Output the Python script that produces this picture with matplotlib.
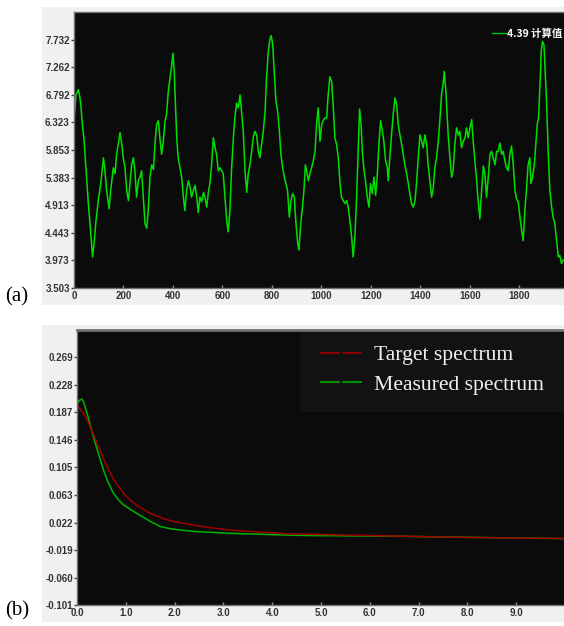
import matplotlib
matplotlib.use("Agg")
import matplotlib.pyplot as plt
from matplotlib.lines import Line2D
from matplotlib.patches import Rectangle

# (a) computed signal
sig_x = [0, 8, 18, 24, 28, 35, 40, 51, 58, 67, 75, 81, 89, 98, 108, 119, 125, 132, 142, 148,
         159, 166, 172, 179, 186, 193, 199, 206, 213, 220, 226, 233, 240, 246, 253, 260, 267,
         273, 280, 287, 294, 300, 307, 314, 321, 327, 334, 341, 347, 354, 361, 368, 374,
         381, 388, 395, 400, 405, 411, 416, 421, 428, 435, 442, 448, 455, 462, 469, 475, 482,
         489, 496, 502, 509, 516, 523, 529, 536, 543, 549, 556, 563, 570, 576, 583, 590, 597,
         603, 610, 617, 623, 630, 637, 644, 650, 657, 664, 671, 677, 684, 691, 698, 704, 711,
         718, 724, 731, 738, 745, 751, 758, 765,
         772, 778, 785, 792, 797, 803, 809, 816, 823, 830, 836, 843, 850, 856, 863, 870, 877,
         883, 890, 897, 904, 909, 916, 922, 929, 935, 940, 947, 953, 960, 967, 974, 980, 987,
         994, 1001, 1007, 1014, 1021, 1027, 1034, 1041, 1048, 1054, 1061, 1068, 1075, 1081,
         1088, 1095, 1102, 1108, 1115, 1122, 1128, 1135, 1142, 1149,
         1154, 1160, 1165, 1172, 1178, 1185, 1192, 1198, 1205, 1212, 1219, 1225, 1232, 1239,
         1246, 1252, 1259, 1266, 1270, 1277, 1283, 1290, 1297, 1304, 1310, 1317, 1324, 1330,
         1337, 1344, 1351, 1357, 1364, 1371, 1378, 1384, 1391, 1398, 1405, 1411, 1418, 1425,
         1431, 1438, 1445, 1452, 1458, 1465, 1472, 1479, 1485, 1492, 1496, 1502, 1507, 1512,
         1519, 1526, 1532,
         1539, 1546, 1553, 1559, 1566, 1573, 1580, 1586, 1593, 1600, 1607, 1613, 1620, 1627,
         1633, 1640, 1647, 1654, 1660, 1667, 1674, 1681, 1687, 1694, 1701, 1708, 1714, 1721,
         1728, 1734, 1741, 1748, 1755, 1761, 1768, 1775, 1782, 1788, 1795, 1802, 1809, 1815,
         1822, 1829, 1835, 1842, 1846, 1853, 1860, 1866, 1872, 1877, 1883, 1888, 1893, 1899,
         1904, 1910, 1916, 1923, 1930, 1936, 1943, 1950, 1957, 1963, 1970, 1977]
sig_y = [6.35, 6.79, 6.88, 6.74, 6.60, 6.23, 6.06, 5.39, 4.94, 4.48, 4.03, 4.26, 4.65, 4.99, 5.28,
         5.72, 5.50, 5.16, 4.85, 5.16, 5.55, 5.45, 5.78, 5.95, 6.15, 5.95, 5.72, 5.55, 5.16, 4.99,
         5.28, 5.60, 5.72, 5.50, 5.05, 5.33, 5.39, 5.50, 5.05, 4.60, 4.52, 4.83, 5.39, 5.60, 5.52,
         5.95, 6.29, 6.35, 6.06, 5.78, 6.00, 6.35, 6.46,
         6.85, 7.08, 7.30, 7.50, 7.19, 6.51, 6.00, 5.72, 5.55, 5.39, 5.05, 4.82, 5.16, 5.33, 5.22,
         5.05, 5.16, 5.25, 5.05, 4.79, 5.05, 4.97, 5.13, 5.05, 4.88, 5.13, 5.28, 5.60, 6.06, 5.89,
         5.78, 5.50, 5.55, 5.50, 5.45, 5.05, 4.65, 4.46, 4.83, 5.55, 6.06, 6.40, 6.65, 6.57, 6.79,
         6.51, 6.17, 5.50, 5.13, 5.45, 5.60, 5.83, 6.06, 6.17, 6.11, 5.83, 5.72, 5.95, 6.17,
         6.51, 7.08, 7.53, 7.75, 7.80, 7.64, 7.19, 6.68, 6.51, 6.17, 5.78, 5.55, 5.39, 5.28, 5.16,
         4.71, 4.99, 5.11, 5.05, 4.60, 4.26, 4.15, 4.60, 4.83, 5.16, 5.60, 5.50, 5.33, 5.45, 5.55,
         5.67, 5.83, 6.29, 6.57, 6.00, 6.29, 6.35, 6.40, 6.40, 6.79, 7.10, 7.02, 6.57, 6.06, 5.95,
         5.72, 5.28, 5.05, 4.99, 4.94, 4.99, 4.88, 4.65, 4.37, 4.03, 4.37, 5.05, 5.95,
         6.55, 6.29, 5.83, 5.50, 5.33, 5.05, 4.88, 5.28, 5.11, 5.39, 5.08, 5.39, 5.95, 6.35, 6.17,
         6.00, 5.67, 5.55, 5.33, 5.78, 6.11, 6.46, 6.74, 6.62, 6.29, 6.11, 5.95, 5.78, 5.60, 5.45,
         5.28, 5.11, 4.94, 4.88, 4.99, 5.28, 5.72, 6.11, 6.00, 5.89, 6.11, 5.95, 5.60, 5.33, 5.05,
         5.22, 5.55, 5.72, 6.00, 6.40, 6.79, 6.99, 7.19, 6.90, 6.51, 6.11, 5.72, 5.39, 5.50,
         5.95, 6.23, 6.11, 6.17, 5.89, 6.00, 6.06, 6.23, 6.06, 6.23, 6.37, 6.00, 5.67, 5.33, 4.99,
         4.68, 5.16, 5.58, 5.45, 5.05, 5.39, 5.78, 5.83, 5.72, 5.60, 5.83, 5.83, 5.97, 5.78, 5.83,
         5.67, 5.55, 5.50, 5.78, 5.92, 5.60, 5.16, 5.02, 4.97, 4.71, 4.48, 4.31, 4.83, 5.22, 5.60,
         5.72, 5.28, 5.39, 5.60, 5.95, 6.29, 6.40, 6.96, 7.53, 7.70, 7.64, 7.19, 6.63, 5.83, 5.16,
         4.88, 4.71, 4.60, 4.31, 4.03, 4.06, 3.92, 3.98]
sig_label = "4.39 计算值"
a_ticks = [3.503, 3.973, 4.443, 4.913, 5.383, 5.853, 6.323, 6.792, 7.262, 7.732]
a_xticks = [0, 200, 400, 600, 800, 1000, 1200, 1400, 1600, 1800]

# (b) spectra
tgt_x = [0.0, 0.13, 0.23, 0.33, 0.44, 0.54, 0.64, 0.74, 0.88, 1.0, 1.2, 1.5, 1.77, 2.0,
         2.5, 3.0, 3.5, 4.3, 5.2, 6.2, 7.6, 9.0, 10.0]
tgt_y = [0.197, 0.186, 0.172, 0.155, 0.136, 0.118, 0.102, 0.088, 0.073, 0.062, 0.049, 0.036,
         0.028, 0.0235, 0.017, 0.012, 0.009, 0.0055, 0.004, 0.0025, 0.0005, -0.001, -0.0016]
mea_x = [0.0, 0.05, 0.10, 0.14, 0.23, 0.33, 0.44, 0.54, 0.64, 0.74, 0.85, 0.95, 1.09, 1.29,
         1.50, 1.70, 1.91, 2.18, 2.49, 3.2, 4.3, 4.8, 6.5, 8.0, 9.5, 10.0]
mea_y = [0.199, 0.205, 0.2067, 0.2016, 0.179, 0.152, 0.125, 0.101, 0.082, 0.067, 0.056,
         0.049, 0.042, 0.033, 0.024, 0.0165, 0.013, 0.0105, 0.0085, 0.006, 0.0035, 0.0028,
         0.0018, 0.0002, -0.0013, -0.0018]
b_ticks = [-0.101, -0.060, -0.019, 0.022, 0.063, 0.105, 0.146, 0.187, 0.228, 0.269]
b_ticklabels = ["-0.101", "-0.060", "-0.019", "0.022", "0.063", "0.105", "0.146", "0.187",
                "0.228", "0.269"]
b_xticks = [0, 1, 2, 3, 4, 5, 6, 7, 8, 9]
legend_labels = ["Target spectrum", "Measured spectrum"]

W, H = 564, 626
fig = plt.figure(figsize=(W / 100, H / 100), dpi=100)
fig.patch.set_facecolor("white")

# grey panels behind each chart
fig.patches.append(Rectangle((42 / W, 1 - 305 / H), 522 / W, 298 / H, transform=fig.transFigure,
                             facecolor="#f0f0f0", edgecolor="none", zorder=-10))
fig.patches.append(Rectangle((42 / W, 1 - 622 / H), 522 / W, 297 / H, transform=fig.transFigure,
                             facecolor="#f0f0f0", edgecolor="none", zorder=-10))

tick_font = dict(family=["Liberation Sans", "DejaVu Sans"], weight="bold", size=7)


def style_axes(ax):
    ax.set_facecolor("#0b0b0b")
    for s in ["top", "left", "bottom"]:
        ax.spines[s].set_color("#707070")
        ax.spines[s].set_linewidth(1.0)
    ax.spines["right"].set_visible(False)
    ax.tick_params(axis="y", direction="out", length=2, width=1, color="#404040",
                   pad=1, labelcolor="#333333")
    ax.tick_params(axis="x", direction="in", length=2, width=1, color="#909090",
                   pad=2, labelcolor="#333333")
    for lab in ax.get_xticklabels() + ax.get_yticklabels():
        lab.set_fontfamily(tick_font["family"])
        lab.set_fontweight("bold")
        lab.set_fontsize(tick_font["size"])


# (a)
ax1 = fig.add_axes([74 / W, 1 - 288 / H, (W - 74) / W, 276 / H])
ax1.plot(sig_x, sig_y, color="#00e000", lw=1.1)
ax1.set_xlim(0, 1980)
ax1.set_ylim(3.503, 8.202)
ax1.set_yticks(a_ticks)
ax1.set_yticklabels([f"{v:.3f}" for v in a_ticks])
ax1.set_xticks(a_xticks)
ax1.set_xticklabels([str(v) for v in a_xticks])
style_axes(ax1)
h1 = Line2D([], [], color="#00c000", lw=1.0)
leg1 = ax1.legend([h1], [sig_label], loc="upper left", bbox_to_anchor=(0.853, 0.94),
                  frameon=False, borderpad=0, borderaxespad=0, handlelength=1.3,
                  handletextpad=0.15,
                  prop=dict(family=["Noto Sans CJK SC", "DejaVu Sans"], weight="bold", size=7.5))
for t in leg1.get_texts():
    t.set_color("white")

# (b)
ax2 = fig.add_axes([77 / W, 1 - 605 / H, (W - 77) / W, 275 / H])
ax2.plot(mea_x, mea_y, color="#00b400", lw=1.1)
ax2.plot(tgt_x, tgt_y, color="#a00000", lw=1.1)
ax2.set_xlim(0, 9.98)
ax2.set_ylim(-0.101, 0.310)
ax2.set_yticks(b_ticks)
ax2.set_yticklabels(b_ticklabels)
ax2.set_xticks(b_xticks)
ax2.set_xticklabels([f"{v:.1f}" for v in b_xticks])
style_axes(ax2)
ax2.spines["top"].set_linewidth(2.0)

# legend box drawn on its own, legend itself without frame
ax2.add_patch(Rectangle((0.458, 0.702), 0.55, 0.291, transform=ax2.transAxes,
                        facecolor="#121212", edgecolor="none", zorder=4, clip_on=False))
handles = [Line2D([], [], color="#8b0000", lw=1.5, dashes=(9.5, 1.2)),
           Line2D([], [], color="#009000", lw=1.5, dashes=(9.5, 1.2))]
leg2 = ax2.legend(handles, legend_labels, loc="upper left", bbox_to_anchor=(0.499, 0.945),
                  frameon=False, borderaxespad=0, borderpad=0, handlelength=1.95,
                  handletextpad=0.52, labelspacing=0.44,
                  prop=dict(family=["Liberation Serif", "DejaVu Serif"], size=15.6))
leg2.set_zorder(5)
for t in leg2.get_texts():
    t.set_color("#f0f0f0")

fig.text(5 / W, 1 - 297 / H, "(a)", family=["Liberation Serif", "DejaVu Serif"], size=15,
         va="center", ha="left")
fig.text(5 / W, 1 - 611 / H, "(b)", family=["Liberation Serif", "DejaVu Serif"], size=15,
         va="center", ha="left")

fig.savefig("out.png", dpi=100)
